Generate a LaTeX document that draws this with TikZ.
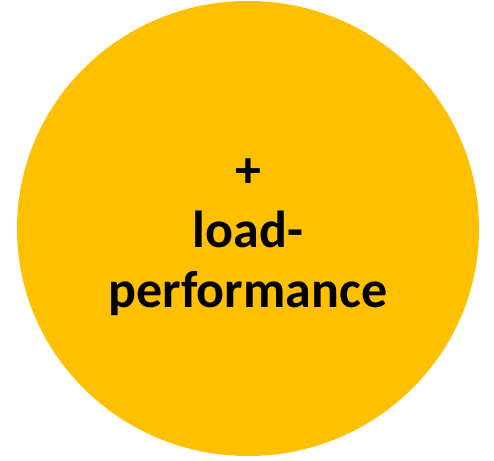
\documentclass[tikz,border=0pt]{standalone}
\usepackage{fontspec}
\setmainfont{Carlito}
\definecolor{circfill}{HTML}{FFC000}
\begin{document}
\begin{tikzpicture}[x=1pt,y=1pt,
  lbl/.style={anchor=base,font=\bfseries\fontsize{52}{60}\selectfont,text=black,inner sep=0pt}]
\useasboundingbox (0,0) rectangle (494,460);
\fill[circfill] (248,231.5) ellipse [x radius=231, y radius=227.5];
\node[lbl] (plus) at (248,272) {+};
\node[lbl] (load) at (248,212) {load-};
\node[lbl] (perf) at (248,152) {performance};
\end{tikzpicture}
\end{document}
